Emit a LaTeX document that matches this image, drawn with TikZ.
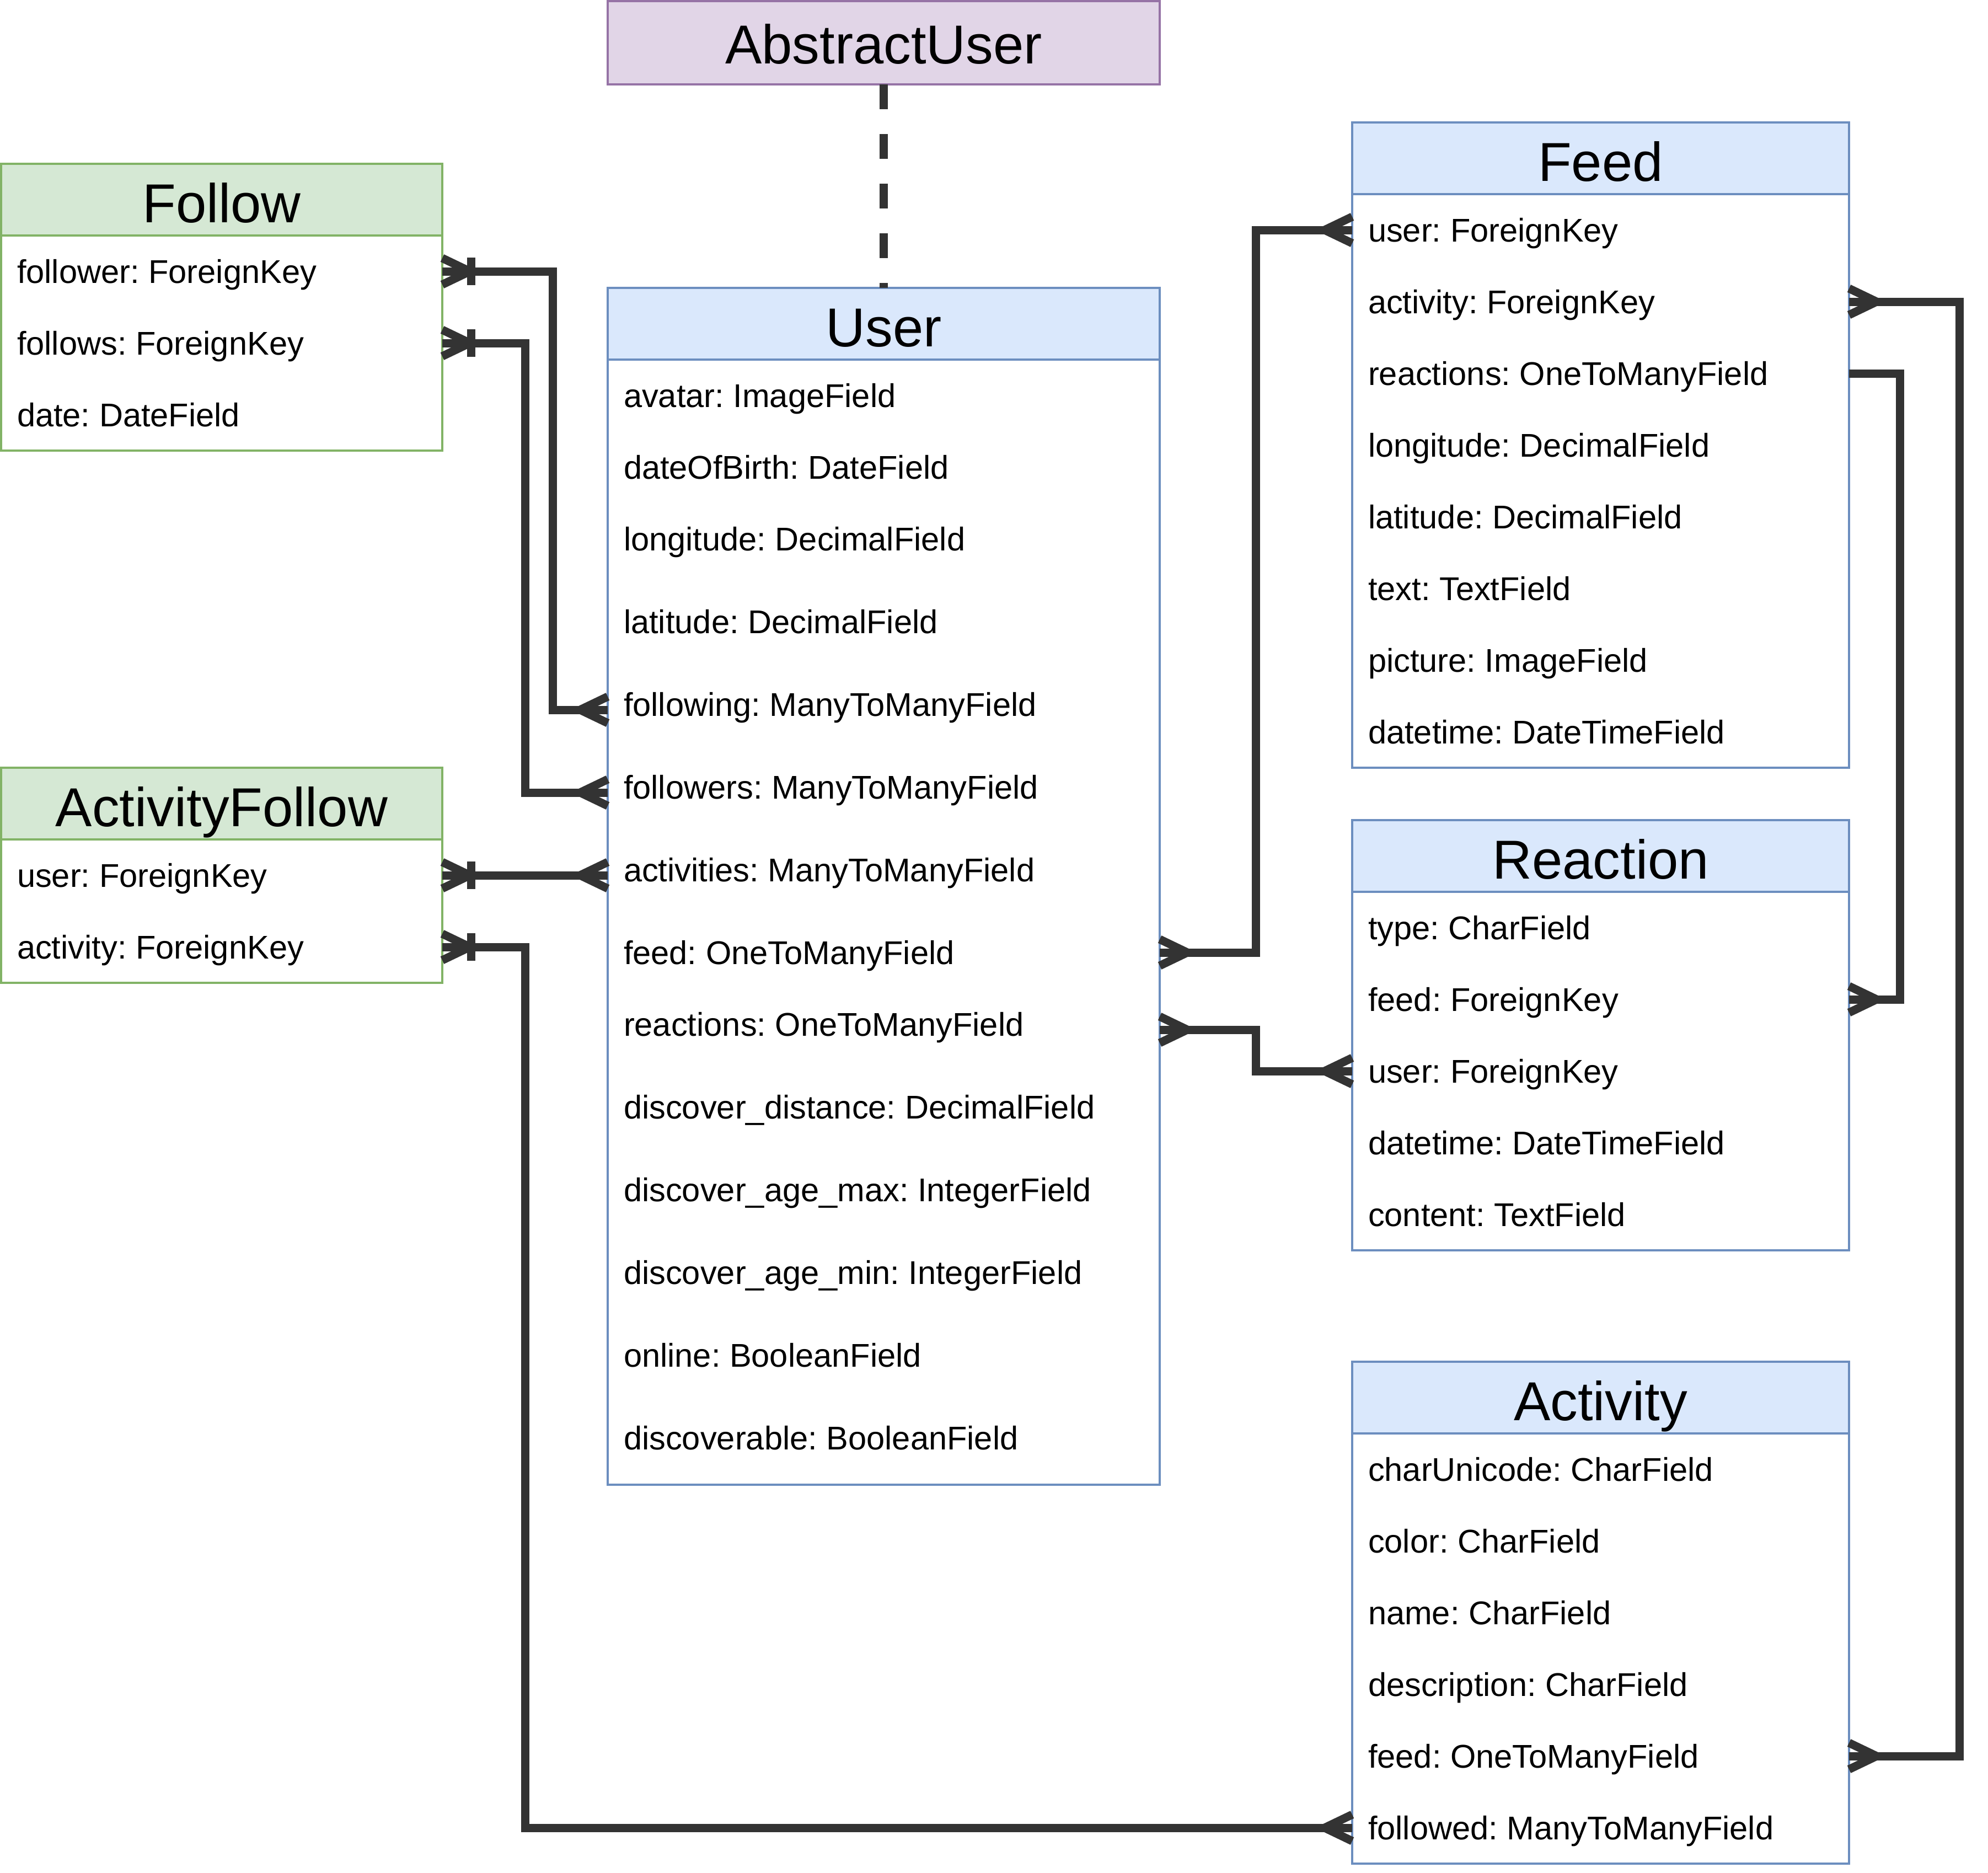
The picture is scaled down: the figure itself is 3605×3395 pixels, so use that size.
\documentclass[tikz,border=0pt]{standalone}
\usepackage{fontspec}
\setmainfont{Liberation Sans}
\frenchspacing
\usetikzlibrary{calc}
\definecolor{bluef}{HTML}{DAE8FC}
\definecolor{bluel}{HTML}{6C8EBF}
\definecolor{greenf}{HTML}{D5E8D4}
\definecolor{greenl}{HTML}{82B366}
\definecolor{purf}{HTML}{E1D5E7}
\definecolor{purl}{HTML}{9673A6}
\definecolor{conc}{HTML}{333333}
\newcommand\fldfont{\fontsize{59.6}{70}\selectfont\frenchspacing}
\newcommand\ttlfont{\fontsize{99.4}{118}\selectfont}
\tikzset{
  boxshape/.style={rectangle, anchor=north west, inner sep=0pt, outer sep=0pt, line width=4pt},
  rowarea/.style={rectangle, anchor=north west, inner sep=0pt, outer sep=0pt},
  fieldtxt/.style={anchor=base west, inner sep=0pt, outer sep=0pt, font=\fldfont, text=black},
  titletxt/.style={anchor=base, inner sep=0pt, outer sep=0pt, font=\ttlfont, text=black},
  conn/.style={draw=conc, line width=15pt, line join=miter},
  dashconn/.style={conn, dash pattern=on 45pt off 45pt},
}
% name, x, top, width, body height, fill, line, title
\newcommand\entity[8]{%
  \node[boxshape, fill=#6, draw=#7, minimum width=#4pt, minimum height=130pt] (#1) at (#2,#3) {};
  \node[boxshape, fill=white, draw=#7, minimum width=#4pt, minimum height=#5pt] (#1-body) at (#2,{#3+130}) {};
  \node[titletxt] (#1-title) at ({#2+#4/2},{#3+106.5}) {#8};
}
% name, x, top, width, height, text
\newcommand\field[6]{%
  \node[rowarea, minimum width=#4pt, minimum height=#5pt] (#1) at (#2,#3) {};
  \node[fieldtxt] (#1-t) at ({#2+29},{#3+86.5}) {#6};
}
\newcommand\crow[2]{\draw[conn] ($(#1)+(0,-24)$) -- ($(#1)+(#2*50,0)$) -- ($(#1)+(0,24)$);}
\newcommand\onebar[2]{\draw[conn] ($(#1)+(#2*52,-25)$) -- ($(#1)+(#2*52,25)$);}
\begin{document}
\begin{tikzpicture}[x=1pt,y=-1pt]
\useasboundingbox (0,0) rectangle (3605,3395);

% AbstractUser
\node[boxshape, fill=purf, draw=purl, minimum width=1001pt, minimum height=151pt] (abs) at (1102,2) {};
\node[titletxt] (abs-title) at (1602.5,115) {AbstractUser};

% Follow
\entity{fol}{2}{297}{800}{390}{greenf}{greenl}{Follow}
\field{fol-follower}{2}{427}{800}{130}{follower: ForeignKey}
\field{fol-follows}{2}{557}{800}{130}{follows: ForeignKey}
\field{fol-date}{2}{687}{800}{130}{date: DateField}

% ActivityFollow
\entity{af}{2}{1392}{800}{260}{greenf}{greenl}{ActivityFollow}
\field{af-user}{2}{1522}{800}{130}{user: ForeignKey}
\field{af-activity}{2}{1652}{800}{130}{activity: ForeignKey}

% User
\entity{usr}{1102}{522}{1001}{2040}{bluef}{bluel}{User}
\field{usr-avatar}{1102}{652}{1001}{130}{avatar: ImageField}
\field{usr-dob}{1102}{782}{1001}{130}{dateOfBirth: DateField}
\field{usr-longitude}{1102}{912}{1001}{150}{longitude: DecimalField}
\field{usr-latitude}{1102}{1062}{1001}{150}{latitude: DecimalField}
\field{usr-following}{1102}{1212}{1001}{150}{following: ManyToManyField}
\field{usr-followers}{1102}{1362}{1001}{150}{followers: ManyToManyField}
\field{usr-activities}{1102}{1512}{1001}{150}{activities: ManyToManyField}
\field{usr-feed}{1102}{1662}{1001}{130}{feed: OneToManyField}
\field{usr-reactions}{1102}{1792}{1001}{150}{reactions: OneToManyField}
\field{usr-ddist}{1102}{1942}{1001}{150}{discover\_distance: DecimalField}
\field{usr-dmax}{1102}{2092}{1001}{150}{discover\_age\_max: IntegerField}
\field{usr-dmin}{1102}{2242}{1001}{150}{discover\_age\_min: IntegerField}
\field{usr-online}{1102}{2392}{1001}{150}{online: BooleanField}
\field{usr-discoverable}{1102}{2542}{1001}{150}{discoverable: BooleanField}

% Feed
\entity{feed}{2452}{222}{901}{1040}{bluef}{bluel}{Feed}
\field{feed-user}{2452}{352}{901}{130}{user: ForeignKey}
\field{feed-activity}{2452}{482}{901}{130}{activity: ForeignKey}
\field{feed-reactions}{2452}{612}{901}{130}{reactions: OneToManyField}
\field{feed-longitude}{2452}{742}{901}{130}{longitude: DecimalField}
\field{feed-latitude}{2452}{872}{901}{130}{latitude: DecimalField}
\field{feed-text}{2452}{1002}{901}{130}{text: TextField}
\field{feed-picture}{2452}{1132}{901}{130}{picture: ImageField}
\field{feed-datetime}{2452}{1262}{901}{130}{datetime: DateTimeField}

% Reaction
\entity{rea}{2452}{1487}{901}{650}{bluef}{bluel}{Reaction}
\field{rea-type}{2452}{1617}{901}{130}{type: CharField}
\field{rea-feed}{2452}{1747}{901}{130}{feed: ForeignKey}
\field{rea-user}{2452}{1877}{901}{130}{user: ForeignKey}
\field{rea-datetime}{2452}{2007}{901}{130}{datetime: DateTimeField}
\field{rea-content}{2452}{2137}{901}{130}{content: TextField}

% Activity
\entity{act}{2452}{2469}{901}{780}{bluef}{bluel}{Activity}
\field{act-char}{2452}{2599}{901}{130}{charUnicode: CharField}
\field{act-color}{2452}{2729}{901}{130}{color: CharField}
\field{act-name}{2452}{2859}{901}{130}{name: CharField}
\field{act-desc}{2452}{2989}{901}{130}{description: CharField}
\field{act-feed}{2452}{3119}{901}{130}{feed: OneToManyField}
\field{act-followed}{2452}{3249}{901}{130}{followed: ManyToManyField}

% bus lines
\coordinate (busA) at (1002,0);
\coordinate (busB) at (952,0);
\coordinate (busC) at (2277,0);
\coordinate (busD) at (3553,0);
\coordinate (busE) at (3445,0);

% inheritance
\draw[dashconn] (abs.south) -- (usr.north);

% connectors
\draw[conn] (fol-follower.east) -- (fol-follower.east -| busA) |- (usr-following.west);
\draw[conn] (fol-follows.east) -- (fol-follows.east -| busB) |- (usr-followers.west);
\draw[conn] (af-user.east) -- (usr-activities.west);
\draw[conn] (af-activity.east) -- (af-activity.east -| busB) |- (act-followed.west);
\draw[conn] (usr-feed.east) -- (usr-feed.east -| busC) |- (feed-user.west);
\draw[conn] (usr-reactions.east) -- (usr-reactions.east -| busC) |- (rea-user.west);
\draw[conn] (feed-activity.east) -- (feed-activity.east -| busD) |- (act-feed.east);
\draw[conn] (feed-reactions.east) -- (feed-reactions.east -| busE) |- (rea-feed.east);

% ends
\crow{fol-follower.east}{1} \onebar{fol-follower.east}{1}
\crow{usr-following.west}{-1}
\crow{fol-follows.east}{1} \onebar{fol-follows.east}{1}
\crow{usr-followers.west}{-1}
\crow{af-user.east}{1} \onebar{af-user.east}{1}
\crow{usr-activities.west}{-1}
\crow{af-activity.east}{1} \onebar{af-activity.east}{1}
\crow{act-followed.west}{-1}
\crow{usr-feed.east}{1}
\crow{feed-user.west}{-1}
\crow{usr-reactions.east}{1}
\crow{rea-user.west}{-1}
\crow{feed-activity.east}{1}
\crow{act-feed.east}{1}
\crow{rea-feed.east}{1}
\end{tikzpicture}
\end{document}
